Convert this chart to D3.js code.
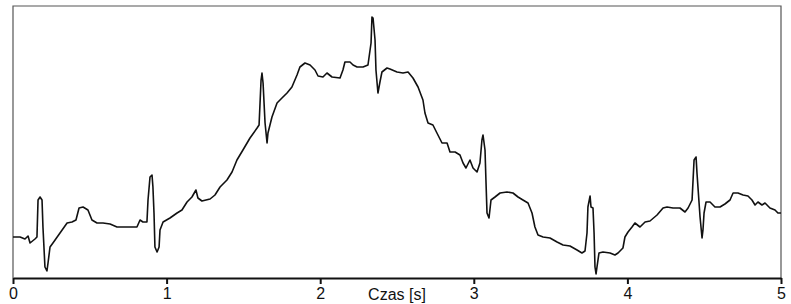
<!DOCTYPE html>
<html>
<head>
<meta charset="utf-8">
<script src="https://cdn.jsdelivr.net/npm/d3@7"></script>
<style>
  html, body { margin: 0; padding: 0; background: #fff; }
  svg { display: block; font-family: "Liberation Sans", Arial, sans-serif; }
  .frame { fill: none; stroke: #555; stroke-width: 1.2; }
  .axis-x .domain { stroke: #111; stroke-width: 2; }
  .axis-x .tick line { stroke: #111; stroke-width: 2; }
  .axis-x .tick text { font-size: 16px; fill: #111; }
  .trace { fill: none; stroke: #111; stroke-width: 1.6; stroke-linejoin: round; }
  .axis-label { font-size: 16px; fill: #111; }
</style>
</head>
<body>
<svg id="chart" width="791" height="304"></svg>
<script>
// ECG trace: time in s, amplitude in arbitrary units (mV-ish)
const time = [
  0, 0.046, 0.078, 0.098, 0.111, 0.143, 0.156, 0.163, 0.176, 0.189, 0.195, 0.208, 0.221, 0.228, 0.241, 0.260,
  0.306, 0.352, 0.384, 0.410, 0.430, 0.456, 0.488, 0.514, 0.547, 0.586, 0.632, 0.677, 0.716, 0.762, 0.807, 0.827,
  0.846, 0.872, 0.879, 0.892, 0.905, 0.911, 0.918, 0.924, 0.938, 0.951, 0.957, 0.977, 1.022, 1.068, 1.100, 1.133,
  1.165, 1.191, 1.204, 1.230, 1.283, 1.315, 1.348, 1.393, 1.426, 1.458, 1.497, 1.543, 1.589, 1.602, 1.615, 1.621,
  1.628, 1.641, 1.654, 1.660, 1.686, 1.719, 1.751, 1.784, 1.816, 1.849, 1.868, 1.901, 1.934, 1.966, 1.986, 2.018,
  2.044, 2.077, 2.129, 2.148, 2.161, 2.194, 2.214, 2.240, 2.279, 2.311, 2.331, 2.337, 2.344, 2.357, 2.363, 2.376,
  2.389, 2.402, 2.435, 2.454, 2.500, 2.539, 2.572, 2.604, 2.637, 2.669, 2.682, 2.702, 2.734, 2.760, 2.793, 2.826,
  2.845, 2.878, 2.910, 2.930, 2.949, 2.975, 2.995, 3.021, 3.040, 3.053, 3.060, 3.073, 3.079, 3.086, 3.099, 3.112,
  3.138, 3.171, 3.216, 3.255, 3.288, 3.320, 3.353, 3.379, 3.398, 3.418, 3.451, 3.496, 3.542, 3.581, 3.626, 3.672,
  3.704, 3.724, 3.737, 3.743, 3.757, 3.763, 3.776, 3.783, 3.789, 3.796, 3.802, 3.815, 3.841, 3.887, 3.919, 3.939,
  3.971, 3.984, 4.004, 4.030, 4.049, 4.082, 4.115, 4.147, 4.193, 4.232, 4.258, 4.297, 4.342, 4.375, 4.395, 4.421,
  4.434, 4.447, 4.453, 4.473, 4.486, 4.492, 4.499, 4.512, 4.538, 4.570, 4.603, 4.635, 4.668, 4.688, 4.720, 4.753,
  4.785, 4.811, 4.831, 4.850, 4.876, 4.896, 4.928, 4.961, 4.980, 5.000
];
const amplitude = [
  0.41, 0.41, 0.39, 0.42, 0.35, 0.39, 0.41, 0.78, 0.81, 0.78, 0.51, 0.11, 0.07, 0.15, 0.31, 0.35,
  0.45, 0.55, 0.56, 0.58, 0.70, 0.71, 0.68, 0.58, 0.55, 0.55, 0.54, 0.51, 0.51, 0.51, 0.51, 0.58,
  0.56, 0.56, 0.78, 1.01, 1.03, 0.91, 0.65, 0.31, 0.26, 0.31, 0.48, 0.56, 0.60, 0.65, 0.68, 0.76,
  0.81, 0.88, 0.80, 0.77, 0.79, 0.83, 0.91, 0.98, 1.06, 1.18, 1.28, 1.40, 1.50, 1.53, 1.98, 2.05,
  1.95, 1.55, 1.35, 1.45, 1.61, 1.75, 1.80, 1.85, 1.91, 2.03, 2.11, 2.15, 2.13, 2.08, 2.02, 2.01,
  2.05, 2.01, 2.00, 2.08, 2.16, 2.16, 2.13, 2.11, 2.11, 2.13, 2.35, 2.61, 2.60, 2.38, 2.08, 1.85,
  1.96, 2.06, 2.10, 2.09, 2.06, 2.05, 2.06, 2.00, 1.91, 1.78, 1.65, 1.55, 1.53, 1.45, 1.35, 1.35,
  1.26, 1.26, 1.23, 1.15, 1.10, 1.18, 1.10, 1.06, 1.15, 1.38, 1.43, 1.28, 0.98, 0.65, 0.60, 0.78,
  0.81, 0.85, 0.86, 0.85, 0.81, 0.78, 0.75, 0.65, 0.51, 0.43, 0.41, 0.40, 0.36, 0.33, 0.32, 0.28,
  0.25, 0.27, 0.45, 0.71, 0.82, 0.71, 0.70, 0.45, 0.11, 0.04, 0.11, 0.25, 0.26, 0.25, 0.23, 0.25,
  0.30, 0.41, 0.46, 0.51, 0.55, 0.51, 0.56, 0.57, 0.63, 0.70, 0.71, 0.70, 0.70, 0.66, 0.70, 0.78,
  1.18, 1.21, 1.05, 0.61, 0.40, 0.48, 0.65, 0.76, 0.76, 0.71, 0.71, 0.74, 0.78, 0.85, 0.85, 0.83,
  0.82, 0.78, 0.73, 0.76, 0.73, 0.75, 0.70, 0.68, 0.65, 0.65
];
const xTicks = [0, 1, 2, 3, 4, 5];
const xLabel = "Czas [s]";

const width = 791, height = 304;
const margin = { top: 6, right: 10, bottom: 26, left: 13 };
const svg = d3.select("#chart");

const x = d3.scaleLinear().domain([0, 5]).range([margin.left, width - margin.right]);
const y = d3.scaleLinear().domain([0, 2.72]).range([height - margin.bottom, margin.top]);

const points = time.map((t, i) => ({ t, v: amplitude[i] }));

// frame (left, top, right)
svg.append("path")
  .attr("class", "frame")
  .attr("d", `M${x(0)},${y(0)} V${y(2.72)} H${x(5)} V${y(0)}`);

const line = d3.line()
  .x(d => x(d.t))
  .y(d => y(d.v));

svg.append("path")
  .datum(points)
  .attr("class", "trace")
  .attr("d", line);

svg.append("g")
  .attr("class", "axis-x")
  .attr("transform", `translate(0,${y(0)})`)
  .call(d3.axisBottom(x).tickValues(xTicks).tickFormat(d3.format("d")).tickSize(6).tickSizeOuter(0).tickPadding(4))
  .call(g => g.selectAll(".tick text").attr("font-family", null));

svg.append("text")
  .attr("class", "axis-label")
  .attr("x", x(2.5))
  .attr("y", height - 4)
  .attr("text-anchor", "middle")
  .text(xLabel);
</script>
</body>
</html>
